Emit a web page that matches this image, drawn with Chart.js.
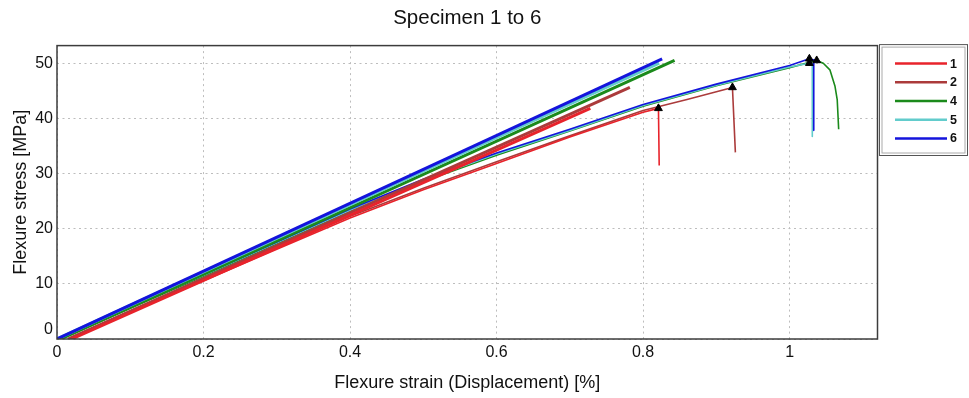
<!DOCTYPE html>
<html>
<head>
<meta charset="utf-8">
<script src="https://cdn.jsdelivr.net/npm/chart.js@4.4.1/dist/chart.umd.min.js"></script>
<style>
  html, body { margin: 0; padding: 0; background: #ffffff; }
  #wrap { width: 969px; height: 398px; }
</style>
</head>
<body>
<div id="wrap"><canvas id="chart" width="969" height="398"></canvas></div>
<script>
// Three-point flexure test, specimens 1, 2, 4, 5 and 6.
// Strain in %, stress in MPa.
const specimens = ['1', '2', '4', '5', '6'];
const colors = ['#e8232b', '#ab3b3b', '#1b8a1b', '#62cccc', '#1414dc'];

// measured curves (last point = break)
const strain1 = [0.020, 0.100, 0.200, 0.300, 0.400, 0.500, 0.600, 0.700, 0.800, 0.821, 0.822];
const stress1 = [0.0, 4.9, 10.6, 16.3, 22.0, 27.1, 31.9, 36.7, 41.2, 41.9, 31.5];

const strain2 = [0.015, 0.100, 0.200, 0.300, 0.400, 0.500, 0.600, 0.700, 0.800, 0.860, 0.922, 0.926];
const stress2 = [0.0, 5.1, 10.9, 16.6, 22.3, 27.4, 32.2, 36.9, 41.5, 43.5, 45.7, 33.9];

const strain4 = [0.005, 0.100, 0.200, 0.300, 0.400, 0.500, 0.600, 0.700, 0.800, 0.900, 1.000, 1.037, 1.046, 1.055, 1.062, 1.065, 1.067];
const stress4 = [0.0, 5.6, 11.4, 17.3, 23.2, 28.6, 33.4, 37.8, 42.3, 46.0, 49.3, 50.6, 50.1, 48.9, 45.9, 43.5, 38.1];

const strain5 = [0.000, 0.100, 0.200, 0.300, 0.400, 0.500, 0.600, 0.700, 0.800, 0.900, 1.000, 1.027, 1.031, 1.031];
const stress5 = [0.0, 5.8, 11.6, 17.5, 23.4, 28.8, 33.6, 37.9, 42.4, 46.1, 49.4, 50.1, 50.0, 36.8];

const strain6 = [0.000, 0.100, 0.200, 0.300, 0.400, 0.500, 0.600, 0.700, 0.800, 0.900, 1.000, 1.027, 1.033, 1.033];
const stress6 = [0.0, 5.9, 11.7, 17.6, 23.6, 29.0, 33.8, 38.1, 42.6, 46.3, 49.7, 50.9, 50.7, 37.9];

// modulus lines, from start of loading up to the maximum stress
const fitStrain1 = [0.020, 0.728];
const fitStress1 = [0.0, 41.9];
const fitStrain2 = [0.015, 0.782];
const fitStress2 = [0.0, 45.7];
const fitStrain4 = [0.005, 0.843];
const fitStress4 = [0.0, 50.6];
const fitStrain5 = [0.000, 0.822];
const fitStress5 = [0.0, 50.1];
const fitStrain6 = [0.000, 0.826];
const fitStress6 = [0.0, 50.9];

// axis ticks
const xTickValues = [0, 0.2, 0.4, 0.6, 0.8, 1];
const yTickValues = [0, 10, 20, 30, 40, 50];

const FONT = '"Liberation Sans", Arial, Helvetica, sans-serif';

const pts = (xs, ys) => xs.map((x, i) => ({ x: x, y: ys[i] }));

const curves = [
  [strain1, stress1], [strain2, stress2], [strain4, stress4], [strain5, stress5], [strain6, stress6]
];
const fits = [
  [fitStrain1, fitStress1], [fitStrain2, fitStress2], [fitStrain4, fitStress4],
  [fitStrain5, fitStress5], [fitStrain6, fitStress6]
];

// maximum stress of every curve, marked with a triangle
const peaks = curves.map(([xs, ys]) => {
  let k = 0;
  ys.forEach((v, i) => { if (v > ys[k]) k = i; });
  return { x: xs[k], y: ys[k] };
});

function lineSet(idx, xs, ys, width, label) {
  return {
    label: label,
    data: pts(xs, ys),
    borderColor: colors[idx],
    backgroundColor: colors[idx],
    borderWidth: width,
    pointRadius: 0,
    pointHoverRadius: 0,
    tension: 0,
    fill: false,
    borderCapStyle: 'butt',
    borderJoinStyle: 'round'
  };
}

// drawing order: first entry ends up on top
const stackTopDown = [0, 1, 4, 3, 2];
const datasets = [];
datasets.push({
  label: 'Fmax',
  data: peaks,
  showLine: false,
  pointStyle: 'triangle',
  pointRadius: 4.5,
  pointHoverRadius: 4.5,
  pointBackgroundColor: '#000000',
  pointBorderColor: '#000000',
  pointBorderWidth: 1
});
stackTopDown.forEach(i => datasets.push(lineSet(i, fits[i][0], fits[i][1], 3, specimens[i] + ' modulus')));
stackTopDown.forEach(i => datasets.push(lineSet(i, curves[i][0], curves[i][1], 1.6, specimens[i])));

// frame around the plot area
const plotFrame = {
  id: 'plotFrame',
  afterDatasetsDraw(chart) {
    const { ctx, chartArea: a } = chart;
    ctx.save();
    ctx.strokeStyle = '#3c3c3c';
    ctx.lineWidth = 1.5;
    ctx.strokeRect(a.left, a.top, a.right - a.left, a.bottom - a.top);
    ctx.restore();
  }
};

// boxed legend to the right of the plot area
const specimenLegend = {
  id: 'specimenLegend',
  afterDraw(chart) {
    const { ctx, chartArea: a } = chart;
    const left = a.right + 2, top = a.top - 1, right = chart.width - 1.5, bottom = 155.5;
    ctx.save();
    ctx.strokeStyle = '#555555';
    ctx.lineWidth = 1;
    ctx.strokeRect(left, top, right - left, bottom - top);
    ctx.strokeStyle = '#aaaaaa';
    ctx.strokeRect(left + 2.5, top + 2.5, right - left - 5, bottom - top - 5);
    ctx.font = 'bold 12.5px ' + FONT;
    ctx.textBaseline = 'middle';
    ctx.textAlign = 'left';
    specimens.forEach((name, i) => {
      const y = top + 19 + i * 18.7;
      ctx.strokeStyle = colors[i];
      ctx.lineWidth = 2.5;
      ctx.beginPath();
      ctx.moveTo(left + 15.5, y);
      ctx.lineTo(left + 67.5, y);
      ctx.stroke();
      ctx.fillStyle = '#111111';
      ctx.fillText(name, left + 70.5, y + 0.5);
    });
    ctx.restore();
  }
};

new Chart(document.getElementById('chart'), {
  type: 'line',
  data: { datasets: datasets },
  plugins: [plotFrame, specimenLegend],
  options: {
    responsive: false,
    animation: false,
    events: [],
    parsing: true,
    layout: { padding: { left: 0, right: 91.5, top: 0, bottom: 0 } },
    plugins: {
      legend: { display: false },
      tooltip: { enabled: false },
      title: {
        display: true,
        fullSize: false,
        text: 'Specimen 1 to 6',
        color: '#111111',
        font: { family: FONT, size: 20.5, weight: 'normal' },
        padding: { top: 5.7, bottom: 15.3 }
      }
    },
    scales: {
      x: {
        type: 'linear',
        min: 0,
        max: 1.12,
        afterBuildTicks: s => { s.ticks = xTickValues.map(v => ({ value: v })); },
        afterFit: s => { s.height = 59; },
        ticks: {
          color: '#111111',
          font: { family: FONT, size: 16 },
          padding: 4,
          maxRotation: 0,
          autoSkip: false,
          callback: v => String(v)
        },
        grid: { color: '#bdbdbd', lineWidth: 1, drawTicks: false },
        border: { display: false, dash: [2, 3.5] },
        title: {
          display: true,
          text: 'Flexure strain (Displacement) [%]',
          color: '#111111',
          font: { family: FONT, size: 18 },
          padding: { top: 0, bottom: 4.2 }
        }
      },
      y: {
        type: 'linear',
        min: 0,
        max: 53.3,
        afterBuildTicks: s => { s.ticks = yTickValues.map(v => ({ value: v })); },
        afterFit: s => { s.width = 57; },
        ticks: {
          color: '#111111',
          font: { family: FONT, size: 16 },
          padding: 4,
          autoSkip: false,
          callback: v => (v === 0 ? ['0', ''] : String(v))
        },
        grid: { color: '#bdbdbd', lineWidth: 1, drawTicks: false },
        border: { display: false, dash: [2, 3.5] },
        title: {
          display: true,
          text: 'Flexure stress [MPa]',
          color: '#111111',
          font: { family: FONT, size: 18 },
          padding: { top: 10.2, bottom: 0 }
        }
      }
    }
  }
});
</script>
</body>
</html>
